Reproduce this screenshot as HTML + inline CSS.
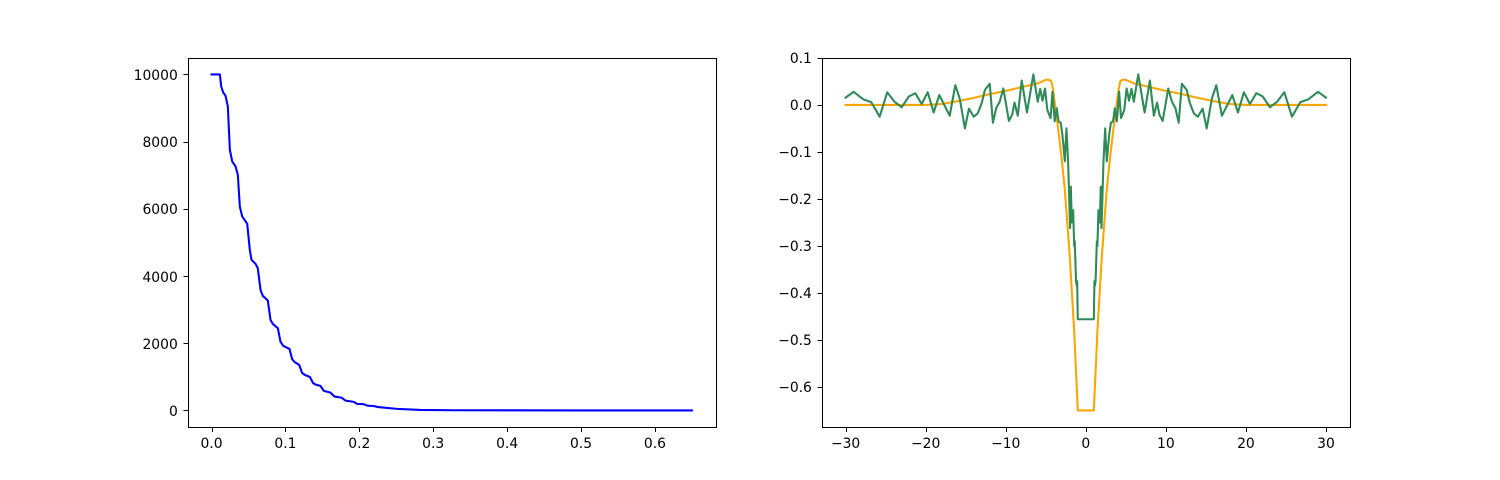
<!DOCTYPE html>
<html>
<head>
<meta charset="utf-8">
<title>Two line charts</title>
<style>
html,body{margin:0;padding:0;background:#fff;width:1500px;height:480px;overflow:hidden}
svg{display:block}
text{font-family:"DejaVu Sans","Liberation Sans",sans-serif;font-size:13.89px;fill:#000}
</style>
</head>
<body>
<svg id="fig" width="1500" height="480" viewBox="0 0 1500 480" xmlns="http://www.w3.org/2000/svg"></svg>
<script>
const decayX = [0,0.0113,0.0131,0.0158,0.0189,0.0221,0.0248,0.028,0.0325,0.0356,0.0383,0.0415,0.0483,0.0518,0.0541,0.0595,0.0626,0.0663,0.0694,0.0762,0.0798,0.0829,0.0897,0.0933,0.097,0.1055,0.1091,0.1127,0.1186,0.1227,0.1271,0.133,0.1375,0.142,0.1474,0.152,0.161,0.1664,0.1758,0.1813,0.1925,0.197,0.206,0.2106,0.2209,0.224,0.2376,0.251,0.2827,0.33,0.4,0.5,0.65];
const decayY = [10000,10000,9643,9464,9366,9047,7758,7409,7261,7013,6069,5772,5554,4780,4482,4363,4235,3588,3410,3270,2695,2576,2448,2049,1921,1831,1525,1435,1355,1108,1048,998,810,759,730,581,530,411,381,292,253,194,185,143,125,104,74,45,15,5,2,0,0];
const orangeX = [-30,-20,-18,-16,-14,-12,-10,-8,-6,-4.9,-4.5,-4.3,-4.09,-3.54,-3.04,-2.62,-2,-1.46,-1,1,1.46,2,2.62,3.04,3.54,4.09,4.3,4.5,4.9,6,8,10,12,14,16,18,20,30];
const orangeY = [0,0,0.002,0.008,0.015,0.023,0.03,0.038,0.046,0.054,0.053,0.05,0.032,-0.038,-0.11,-0.18,-0.323,-0.478,-0.65,-0.65,-0.478,-0.323,-0.18,-0.11,-0.038,0.032,0.05,0.053,0.054,0.046,0.038,0.03,0.023,0.015,0.008,0.002,0,0];
const greenX = [-30,-29,-27.8,-26.8,-25.75,-24.8,-23.9,-23,-22.1,-21.3,-20.5,-19.75,-19,-18.3,-17,-16.3,-15.75,-15.1,-14.6,-14,-13.5,-13,-12.6,-12,-11.6,-11.2,-10.75,-10.3,-9.6,-9.2,-8.9,-8.5,-8,-7.35,-6.55,-6,-5.7,-5.4,-5.1,-4.8,-4.4,-4.16,-3.88,-3.63,-3.4,-3.13,-2.92,-2.62,-2.42,-2.3,-2.21,-1.96,-1.87,-1.75,-1.58,-1.45,-1.38,-1.22,-1.13,-1.08,-1,1,1.08,1.13,1.22,1.38,1.45,1.58,1.75,1.87,1.96,2.21,2.3,2.42,2.62,2.92,3.13,3.4,3.63,3.88,4.16,4.4,4.8,5.1,5.4,5.7,6,6.55,7.35,8,8.5,8.9,9.2,9.6,10.3,10.75,11.2,11.6,12,12.6,13,13.5,14,14.6,15.1,15.75,16.3,17,18.3,19,19.75,20.5,21.3,22.1,23,23.9,24.8,25.75,26.8,27.8,29,30];
const greenY = [0.0156,0.028,0.012,0.006,-0.025,0.027,0.007,-0.005,0.018,0.025,0.002,0.027,-0.016,0.021,-0.023,0.042,0.014,-0.05,-0.008,-0.025,-0.018,0.004,0.032,0.045,-0.038,-0.007,0.007,0.035,-0.034,-0.021,0.005,-0.023,0.052,-0.016,0.065,0.007,0.034,0.009,0.035,-0.011,-0.028,0.028,-0.035,-0.007,-0.035,-0.038,-0.064,-0.12,-0.05,-0.089,-0.12,-0.262,-0.174,-0.25,-0.224,-0.3,-0.29,-0.375,-0.385,-0.375,-0.456,-0.456,-0.375,-0.385,-0.375,-0.29,-0.3,-0.224,-0.25,-0.174,-0.262,-0.12,-0.089,-0.05,-0.12,-0.064,-0.038,-0.035,-0.007,-0.035,0.028,-0.028,-0.011,0.035,0.009,0.034,0.007,0.065,-0.016,0.052,-0.023,0.005,-0.021,-0.034,0.035,0.007,-0.007,-0.038,0.045,0.032,0.004,-0.018,-0.025,-0.008,-0.05,0.014,0.042,-0.023,0.021,-0.016,0.027,0.002,0.025,0.018,-0.005,0.007,0.027,-0.025,0.006,0.012,0.028,0.0156];
const leftXTicks = [0,0.1,0.2,0.3,0.4,0.5,0.6];
const leftXLabels = ["0.0","0.1","0.2","0.3","0.4","0.5","0.6"];
const leftYTicks = [0,2000,4000,6000,8000,10000];
const leftYLabels = ["0","2000","4000","6000","8000","10000"];
const rightXTicks = [-30,-20,-10,0,10,20,30];
const rightXLabels = ["\u221230","\u221220","\u221210","0","10","20","30"];
const rightYTicks = [0.1,0,-0.1,-0.2,-0.3,-0.4,-0.5,-0.6];
const rightYLabels = ["0.1","0.0","\u22120.1","\u22120.2","\u22120.3","\u22120.4","\u22120.5","\u22120.6"];

const NS = "http://www.w3.org/2000/svg";
const fig = document.getElementById("fig");
const TOP = 57.6, BOTTOM = 427.2;

function make(tag, parent, attrs) {
  const el = document.createElementNS(NS, tag);
  for (const k in attrs) el.setAttribute(k, attrs[k]);
  parent.appendChild(el);
  return el;
}
function snap(v) { return Math.round(v) + 0.5; }
function linearScale(d0, d1, r0, r1) {
  return v => r0 + (v - d0) * (r1 - r0) / (d1 - d0);
}
function limits(arrs) {
  const all = [].concat(...arrs);
  const lo = Math.min(...all), hi = Math.max(...all);
  const pad = (hi - lo) * 0.05;
  return [lo - pad, hi + pad];
}
function drawAxes(prefix, left, right, xs, ys, xt, xl, yt, yl) {
  const xLim = limits(xs), yLim = limits(ys);
  const X = linearScale(xLim[0], xLim[1], left, right);
  const Y = linearScale(yLim[0], yLim[1], BOTTOM, TOP);
  const g = make("g", fig, {});
  
  
  xt.forEach((t, i) => {
    const px = snap(X(t));
    const tick = make("line", g, {x1: px, x2: px, y1: Math.round(BOTTOM) + 0.5, y2: Math.round(BOTTOM) + 5, stroke: "#000", "stroke-width": 1});
    
    
    const label = make("text", g, {x: X(t), y: 448, "text-anchor": "middle"});
    label.textContent = xl[i];
    
    
  });
  yt.forEach((t, i) => {
    const py = snap(Y(t));
    const tick = make("line", g, {x1: Math.round(left) - 4.5, x2: Math.round(left), y1: py, y2: py, stroke: "#000", "stroke-width": 1});
    
    
    const label = make("text", g, {x: left - 9.7, y: Math.round(Y(t) + 5.5), "text-anchor": "end"});
    label.textContent = yl[i];
    
    
  });
  const frame = make("rect", g, {x: Math.round(left) + 0.5, y: Math.round(TOP) + 0.5, width: Math.round(right) - Math.round(left), height: Math.round(BOTTOM) - Math.round(TOP), fill: "none", stroke: "#000", "stroke-width": 1});
  
  
  return {X, Y, g};
}
function drawLine(ax, xv, yv, color, name) {
  const pts = xv.map((v, i) => ax.X(v).toFixed(2) + "," + ax.Y(yv[i]).toFixed(2)).join(" ");
  const line = make("polyline", ax.g, {points: pts, fill: "none", stroke: color, "stroke-width": 2.08, "stroke-linejoin": "round", "stroke-linecap": "square"});
  
  
}

const leftAx = drawAxes("left", 187.5, 715.9, [decayX], [decayY], leftXTicks, leftXLabels, leftYTicks, leftYLabels);
drawLine(leftAx, decayX, decayY, "#0000ff", "decay-line");

const rightAx = drawAxes("right", 821.6, 1350, [orangeX, greenX], [orangeY, greenY], rightXTicks, rightXLabels, rightYTicks, rightYLabels);
drawLine(rightAx, orangeX, orangeY, "#ffa500", "orange-line");
drawLine(rightAx, greenX, greenY, "#2e8b57", "seagreen-line");
</script>
</body>
</html>
